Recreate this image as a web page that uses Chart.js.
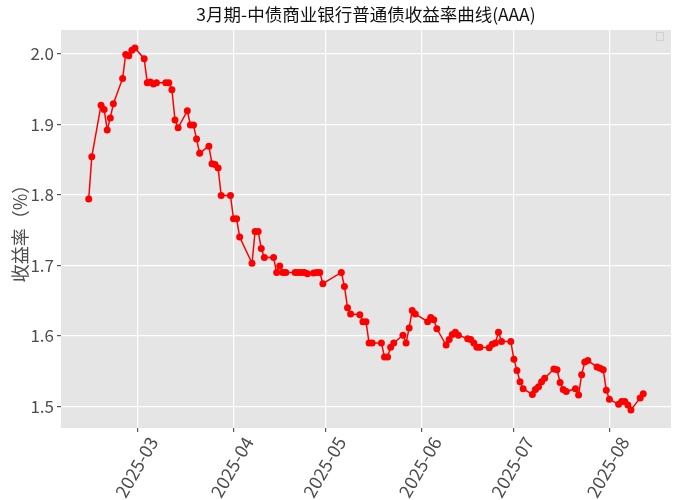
<!DOCTYPE html>
<html>
<head>
<meta charset="utf-8">
<script src="https://cdn.jsdelivr.net/npm/chart.js@4.4.1/dist/chart.umd.min.js"></script>
<style>
html,body{margin:0;padding:0;background:#fff;}
#wrap{width:677px;height:500px;}
</style>
</head>
<body>
<div id="wrap"><canvas id="c" width="677" height="500"></canvas></div>
<script>
const titleText = '3月期-中债商业银行普通债收益率曲线(AAA)';
const yAxisTitle = '收益率（%）';

const dates = [
'2025-02-13','2025-02-14','2025-02-17','2025-02-18','2025-02-19','2025-02-20','2025-02-21',
'2025-02-24','2025-02-25','2025-02-26','2025-02-27','2025-02-28',
'2025-03-03','2025-03-04','2025-03-05','2025-03-06','2025-03-07',
'2025-03-10','2025-03-11','2025-03-12','2025-03-13','2025-03-14',
'2025-03-17','2025-03-18','2025-03-19','2025-03-20','2025-03-21',
'2025-03-24','2025-03-25','2025-03-26','2025-03-27','2025-03-28',
'2025-03-31','2025-04-01','2025-04-02','2025-04-03',
'2025-04-07','2025-04-08','2025-04-09','2025-04-10','2025-04-11',
'2025-04-14','2025-04-15','2025-04-16','2025-04-17','2025-04-18',
'2025-04-21','2025-04-22','2025-04-23','2025-04-24','2025-04-25',
'2025-04-27','2025-04-28','2025-04-29','2025-04-30',
'2025-05-06','2025-05-07','2025-05-08','2025-05-09',
'2025-05-12','2025-05-13','2025-05-14','2025-05-15','2025-05-16',
'2025-05-19','2025-05-20','2025-05-21','2025-05-22','2025-05-23',
'2025-05-26','2025-05-27','2025-05-28','2025-05-29','2025-05-30',
'2025-06-03','2025-06-04','2025-06-05','2025-06-06',
'2025-06-09','2025-06-10','2025-06-11','2025-06-12','2025-06-13',
'2025-06-16','2025-06-17','2025-06-18','2025-06-19','2025-06-20',
'2025-06-23','2025-06-24','2025-06-25','2025-06-26','2025-06-27',
'2025-06-30','2025-07-01','2025-07-02','2025-07-03','2025-07-04',
'2025-07-07','2025-07-08','2025-07-09','2025-07-10','2025-07-11',
'2025-07-14','2025-07-15','2025-07-16','2025-07-17','2025-07-18',
'2025-07-21','2025-07-22','2025-07-23','2025-07-24','2025-07-25',
'2025-07-28','2025-07-29','2025-07-30','2025-07-31','2025-08-01',
'2025-08-04','2025-08-05','2025-08-06','2025-08-07','2025-08-08',
'2025-08-11','2025-08-12'
];

const yields = [
1.794,1.854,1.927,1.921,1.892,1.909,1.929,
1.965,1.999,1.997,2.005,2.008,
1.993,1.959,1.960,1.957,1.959,
1.959,1.959,1.949,1.906,1.895,
1.919,1.899,1.899,1.879,1.859,
1.869,1.844,1.843,1.838,1.799,
1.799,1.766,1.766,1.740,
1.703,1.748,1.748,1.724,1.711,
1.711,1.690,1.699,1.690,1.690,
1.690,1.690,1.690,1.690,1.688,
1.689,1.690,1.690,1.674,
1.690,1.670,1.640,1.631,
1.630,1.620,1.620,1.590,1.590,
1.590,1.570,1.570,1.584,1.590,
1.601,1.590,1.611,1.636,1.631,
1.620,1.626,1.623,1.610,
1.587,1.595,1.602,1.605,1.601,
1.596,1.595,1.590,1.584,1.584,
1.583,1.588,1.590,1.605,1.592,
1.592,1.567,1.551,1.535,1.525,
1.517,1.524,1.528,1.535,1.540,
1.553,1.552,1.534,1.524,1.521,
1.525,1.516,1.545,1.563,1.565,
1.556,1.554,1.552,1.523,1.510,
1.503,1.507,1.507,1.502,1.495,
1.512,1.518
];

const monthTicks = ['2025-03','2025-04','2025-05','2025-06','2025-07','2025-08'];
const yTicks = [1.5,1.6,1.7,1.8,1.9,2.0];

const DAY = 86400000;
const epoch = Date.UTC(2025,0,1);
function toDay(s){
  const p = s.split('-').map(Number);
  return (Date.UTC(p[0], p[1]-1, p[2] || 1) - epoch) / DAY;
}
function dayToMonthLabel(d){
  const dt = new Date(epoch + d*DAY);
  const m = dt.getUTCMonth()+1;
  return dt.getUTCFullYear() + '-' + (m<10?'0':'') + m;
}

const points = dates.map((d,i)=>({x: toDay(d), y: yields[i]}));
const xs = points.map(p=>p.x), ys = yields;
const xMin0 = Math.min(...xs), xMax0 = Math.max(...xs);
const yMin0 = Math.min(...ys), yMax0 = Math.max(...ys);
const xPad = (xMax0-xMin0)*0.05, yPad = (yMax0-yMin0)*0.05;

const FONT = '"Noto Sans CJK JP","Noto Sans CJK SC","DejaVu Sans",sans-serif';

const bgPlugin = {
  id:'bg',
  beforeDraw(chart){
    const {ctx, chartArea:a} = chart;
    ctx.save();
    ctx.fillStyle = '#E5E5E5';
    ctx.fillRect(a.left, a.top, a.right-a.left, a.bottom-a.top);
    ctx.restore();
  },
  afterDraw(chart){
    const {ctx, chartArea:a} = chart;
    ctx.save();
    ctx.strokeStyle = 'rgba(204,204,204,0.8)';
    ctx.fillStyle = 'rgba(229,229,229,0.8)';
    ctx.lineWidth = 1;
    ctx.beginPath();
    ctx.rect(a.right-14.5, a.top+2.5, 7, 8);
    ctx.fill(); ctx.stroke();
    ctx.restore();
  }
};

new Chart(document.getElementById('c'), {
  type:'line',
  data:{
    datasets:[{
      data: points,
      borderColor:'#ff0000',
      backgroundColor:'#ff0000',
      borderWidth:1.5,
      pointRadius:3.5,
      pointBorderWidth:0,
      pointBackgroundColor:'#ff0000',
      tension:0,
      fill:false
    }]
  },
  options:{
    responsive:false,
    animation:false,
    devicePixelRatio:1,
    layout:{padding:{left:0,right:6,top:0,bottom:0}},
    plugins:{
      legend:{display:false},
      tooltip:{enabled:false},
      title:{
        display:true,
        fullSize:false,
        text:titleText,
        color:'#111',
        font:{family:FONT,size:17.5,weight:'normal'},
        padding:{top:4,bottom:5}
      }
    },
    scales:{
      x:{
        type:'linear',
        min:xMin0-xPad,
        max:xMax0+xPad,
        border:{display:false},
        grid:{color:'#ffffff',lineWidth:1.2,drawTicks:true,tickLength:4,tickColor:'#555'},
        afterBuildTicks(scale){ scale.ticks = monthTicks.map(m=>({value:toDay(m)})); },
        afterFit(scale){ scale.height = 72; },
        ticks:{
          color:'#4d4d4d',
          font:{family:FONT,size:18},
          minRotation:60,maxRotation:60,
          padding:1,
          labelOffset:15,
          autoSkip:false,
          callback:(v)=>dayToMonthLabel(v)
        }
      },
      y:{
        type:'linear',
        min:yMin0-yPad,
        max:yMax0+yPad,
        border:{display:false},
        grid:{color:'#ffffff',lineWidth:1.2,drawTicks:true,tickLength:4,tickColor:'#555'},
        afterBuildTicks(scale){ scale.ticks = yTicks.map(v=>({value:v})); },
        afterFit(scale){ scale.width = 61; },
        ticks:{
          color:'#4d4d4d',
          font:{family:FONT,size:17},
          padding:3,
          callback:(v)=>Number(v).toFixed(1)
        },
        title:{
          display:true,
          text:yAxisTitle,
          color:'#4d4d4d',
          font:{family:FONT,size:18},
          padding:{top:9,bottom:0}
        }
      }
    }
  },
  plugins:[bgPlugin]
});
</script>
</body>
</html>
